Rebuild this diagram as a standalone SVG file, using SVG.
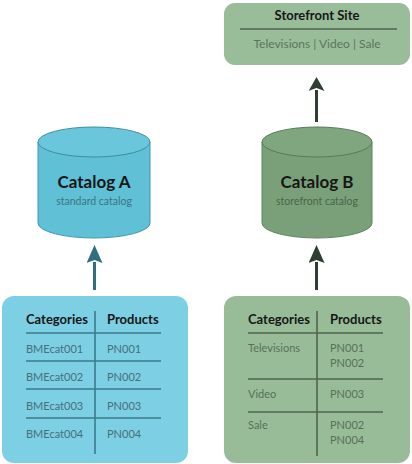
<svg xmlns="http://www.w3.org/2000/svg" width="412" height="464" viewBox="0 0 412 464">
<defs>
<style>
text{font-family:Lato,"Open Sans",sans-serif}
.ttl{font-weight:bold;font-size:17px;fill:#161616;text-anchor:middle}
.sub{font-size:10.5px;text-anchor:middle}
.hd{font-weight:bold;font-size:13px;fill:#161616}
.cellA{font-size:11px;fill:#45707c}
.cellB{font-size:11px;fill:#587058}
.lnA{stroke:#3a7a8c;stroke-width:1.6}
.lnB{stroke:#4f654f;stroke-width:1.6}
</style>
<marker id="ahA" viewBox="0 0 18 16" refX="1" refY="8" markerWidth="18" markerHeight="16" markerUnits="userSpaceOnUse" orient="auto">
<path d="M0,0 L18,8 L0,16 L3,8 Z" fill="#2f6f80"/>
</marker>
<marker id="ahB" viewBox="0 0 18 16" refX="1" refY="8" markerWidth="18" markerHeight="16" markerUnits="userSpaceOnUse" orient="auto">
<path d="M0,0 L18,8 L0,16 L3,8 Z" fill="#2f3f2f"/>
</marker>
<marker id="ahB2" viewBox="0 0 14 16" refX="1" refY="8" markerWidth="14" markerHeight="16" markerUnits="userSpaceOnUse" orient="auto">
<path d="M0,0 L14,8 L0,16 L3,8 Z" fill="#2f3f2f"/>
</marker>
</defs>
<rect width="412" height="464" fill="#ffffff"/>

<g id="connectors">
<line x1="94.5" y1="290" x2="94.5" y2="262" stroke="#2f6f80" stroke-width="3" marker-end="url(#ahA)"/>
<line x1="316.5" y1="290" x2="316.5" y2="262" stroke="#2f3f2f" stroke-width="3" marker-end="url(#ahB)"/>
<line x1="316.5" y1="122" x2="316.5" y2="90" stroke="#2f3f2f" stroke-width="3" marker-end="url(#ahB2)"/>
</g>

<g id="storefront">
<rect x="224" y="3" width="186" height="62" rx="11" fill="#99bc99"/>
<line x1="240" y1="29" x2="397" y2="29" class="lnB"/>
<text x="317" y="20" text-anchor="middle" class="hd">Storefront Site</text>
<text x="317" y="48" text-anchor="middle" font-size="12" fill="#5b765b">Televisions | Video | Sale</text>
</g>

<g id="catalogA">
<path d="M38,142 L38,223 A56,15 0 0 0 150,223 L150,142 Z" fill="#5fc0d6" stroke="#3f98ae" stroke-width="1"/>
<ellipse cx="94" cy="142" rx="56" ry="15" fill="#6ac6da" stroke="#3f8da2" stroke-width="1"/>
<text x="94" y="188" class="ttl">Catalog A</text>
<text x="94" y="205" class="sub" fill="#3d7584">standard catalog</text>
</g>

<g id="catalogB">
<path d="M262,142 L262,223 A55,15 0 0 0 372,223 L372,142 Z" fill="#7aa07a" stroke="#5f845f" stroke-width="1"/>
<ellipse cx="317" cy="142" rx="55" ry="15" fill="#80a680" stroke="#587a58" stroke-width="1"/>
<text x="317" y="188" class="ttl">Catalog B</text>
<text x="317" y="205" class="sub" fill="#4a664a">storefront catalog</text>
</g>

<g id="tableA">
<rect x="2" y="296" width="186" height="167" rx="12" fill="#7dcfe3"/>
<line x1="95" y1="311" x2="95" y2="454" class="lnA"/>
<line x1="26" y1="333" x2="161" y2="333" class="lnA"/>
<line x1="26" y1="361" x2="161" y2="361" class="lnA"/>
<line x1="26" y1="389" x2="161" y2="389" class="lnA"/>
<line x1="26" y1="418" x2="161" y2="418" class="lnA"/>
<text x="26" y="324" class="hd">Categories</text>
<text x="107" y="324" class="hd">Products</text>
<text x="26" y="353" class="cellA">BMEcat001</text>
<text x="107" y="353" class="cellA">PN001</text>
<text x="26" y="381" class="cellA">BMEcat002</text>
<text x="107" y="381" class="cellA">PN002</text>
<text x="26" y="410" class="cellA">BMEcat003</text>
<text x="107" y="410" class="cellA">PN003</text>
<text x="26" y="438" class="cellA">BMEcat004</text>
<text x="107" y="438" class="cellA">PN004</text>
</g>

<g id="tableB">
<rect x="224" y="296" width="186" height="167" rx="12" fill="#98bc98"/>
<line x1="317" y1="311" x2="317" y2="456" class="lnB"/>
<line x1="248" y1="333" x2="383" y2="333" class="lnB"/>
<line x1="248" y1="379" x2="383" y2="379" class="lnB"/>
<line x1="248" y1="412" x2="383" y2="412" class="lnB"/>
<text x="248" y="324" class="hd">Categories</text>
<text x="330" y="324" class="hd">Products</text>
<text x="248" y="352" class="cellB">Televisions</text>
<text x="330" y="352" class="cellB">PN001</text>
<text x="330" y="367" class="cellB">PN002</text>
<text x="248" y="398" class="cellB">Video</text>
<text x="330" y="398" class="cellB">PN003</text>
<text x="248" y="429" class="cellB">Sale</text>
<text x="330" y="429" class="cellB">PN002</text>
<text x="330" y="444" class="cellB">PN004</text>
</g>
</svg>
